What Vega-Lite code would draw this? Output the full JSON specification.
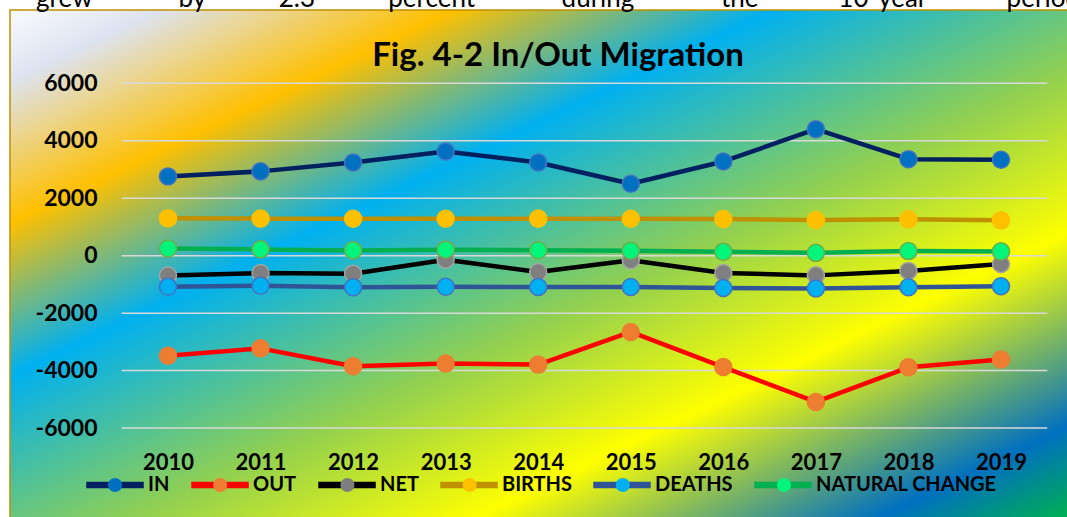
{
  "$schema": "https://vega.github.io/schema/vega-lite/v6.json",
  "width": 1058,
  "height": 508,
  "autosize": {"type": "none"},
  "padding": {"left": 10, "top": 10, "right": 0, "bottom": 0},
  "background": "white",
  "title": {
    "text": "grew\u00a0\u00a0\u00a0\u00a0\u00a0\u00a0\u00a0\u00a0\u00a0\u00a0\u00a0\u00a0\u00a0by\u00a0\u00a0\u00a0\u00a0\u00a0\u00a0\u00a0\u00a0\u00a0\u00a0\u00a02.3\u00a0\u00a0\u00a0\u00a0\u00a0\u00a0\u00a0\u00a0\u00a0\u00a0\u00a0percent\u00a0\u00a0\u00a0\u00a0\u00a0\u00a0\u00a0\u00a0\u00a0\u00a0\u00a0\u00a0\u00a0during\u00a0\u00a0\u00a0\u00a0\u00a0\u00a0\u00a0\u00a0\u00a0\u00a0\u00a0\u00a0\u00a0the\u00a0\u00a0\u00a0\u00a0\u00a0\u00a0\u00a0\u00a0\u00a0\u00a0\u00a0\u00a010-year\u00a0\u00a0\u00a0\u00a0\u00a0\u00a0\u00a0\u00a0\u00a0\u00a0\u00a0\u00a0period\u00a0\u00a0\u00a0\u00a0\u00a0\u00a0\u00a0",
    "subtitle": "Fig. 4-2 In/Out Migration",
    "font": "Lato",
    "fontSize": 26,
    "fontWeight": "normal",
    "color": "#000000",
    "subtitleFont": "Lato",
    "subtitleFontSize": 33,
    "subtitleFontWeight": "bold",
    "subtitleColor": "#000000",
    "subtitlePadding": 28,
    "anchor": "middle",
    "frame": "group",
    "offset": -63,
    "dx": 19
  },
  "config": {
    "view": {
      "stroke": "#bf9000",
      "strokeWidth": 1.5,
      "fill": {
        "gradient": "linear",
        "x1": 0, "y1": 0, "x2": 1, "y2": 1,
        "stops": [
          {"offset": 0, "color": "#fafbfe"},
          {"offset": 0.07, "color": "#dde3f1"},
          {"offset": 0.21, "color": "#ffc000"},
          {"offset": 0.36, "color": "#00b0f0"},
          {"offset": 0.56, "color": "#92d050"},
          {"offset": 0.72, "color": "#ffff00"},
          {"offset": 0.91, "color": "#0070c0"},
          {"offset": 1, "color": "#00b050"}
        ]
      }
    }
  },
  "data": {
    "values": [
      {"year": 2010, "series": "IN", "value": 2760},
      {"year": 2011, "series": "IN", "value": 2935},
      {"year": 2012, "series": "IN", "value": 3245},
      {"year": 2013, "series": "IN", "value": 3630},
      {"year": 2014, "series": "IN", "value": 3245},
      {"year": 2015, "series": "IN", "value": 2505},
      {"year": 2016, "series": "IN", "value": 3280},
      {"year": 2017, "series": "IN", "value": 4405},
      {"year": 2018, "series": "IN", "value": 3360},
      {"year": 2019, "series": "IN", "value": 3340},
      {"year": 2010, "series": "OUT", "value": -3480},
      {"year": 2011, "series": "OUT", "value": -3225},
      {"year": 2012, "series": "OUT", "value": -3850},
      {"year": 2013, "series": "OUT", "value": -3755},
      {"year": 2014, "series": "OUT", "value": -3790},
      {"year": 2015, "series": "OUT", "value": -2655},
      {"year": 2016, "series": "OUT", "value": -3875},
      {"year": 2017, "series": "OUT", "value": -5090},
      {"year": 2018, "series": "OUT", "value": -3885},
      {"year": 2019, "series": "OUT", "value": -3615},
      {"year": 2010, "series": "NET", "value": -690},
      {"year": 2011, "series": "NET", "value": -605},
      {"year": 2012, "series": "NET", "value": -625},
      {"year": 2013, "series": "NET", "value": -140},
      {"year": 2014, "series": "NET", "value": -570},
      {"year": 2015, "series": "NET", "value": -160},
      {"year": 2016, "series": "NET", "value": -600},
      {"year": 2017, "series": "NET", "value": -685},
      {"year": 2018, "series": "NET", "value": -530},
      {"year": 2019, "series": "NET", "value": -290},
      {"year": 2010, "series": "BIRTHS", "value": 1305},
      {"year": 2011, "series": "BIRTHS", "value": 1290},
      {"year": 2012, "series": "BIRTHS", "value": 1285},
      {"year": 2013, "series": "BIRTHS", "value": 1285},
      {"year": 2014, "series": "BIRTHS", "value": 1290},
      {"year": 2015, "series": "BIRTHS", "value": 1285},
      {"year": 2016, "series": "BIRTHS", "value": 1275},
      {"year": 2017, "series": "BIRTHS", "value": 1245},
      {"year": 2018, "series": "BIRTHS", "value": 1265},
      {"year": 2019, "series": "BIRTHS", "value": 1230},
      {"year": 2010, "series": "DEATHS", "value": -1078},
      {"year": 2011, "series": "DEATHS", "value": -1045},
      {"year": 2012, "series": "DEATHS", "value": -1100},
      {"year": 2013, "series": "DEATHS", "value": -1080},
      {"year": 2014, "series": "DEATHS", "value": -1090},
      {"year": 2015, "series": "DEATHS", "value": -1090},
      {"year": 2016, "series": "DEATHS", "value": -1125},
      {"year": 2017, "series": "DEATHS", "value": -1140},
      {"year": 2018, "series": "DEATHS", "value": -1100},
      {"year": 2019, "series": "DEATHS", "value": -1065},
      {"year": 2010, "series": "NATURAL CHANGE", "value": 250},
      {"year": 2011, "series": "NATURAL CHANGE", "value": 220},
      {"year": 2012, "series": "NATURAL CHANGE", "value": 185},
      {"year": 2013, "series": "NATURAL CHANGE", "value": 210},
      {"year": 2014, "series": "NATURAL CHANGE", "value": 190},
      {"year": 2015, "series": "NATURAL CHANGE", "value": 175},
      {"year": 2016, "series": "NATURAL CHANGE", "value": 140},
      {"year": 2017, "series": "NATURAL CHANGE", "value": 100},
      {"year": 2018, "series": "NATURAL CHANGE", "value": 160},
      {"year": 2019, "series": "NATURAL CHANGE", "value": 150}
    ]
  },
  "layer": [
    {
      "data": {"values": [{"value": -6000}, {"value": -4000}, {"value": -2000}, {"value": 0}, {"value": 2000}, {"value": 4000}, {"value": 6000}]},
      "mark": {"type": "rule", "color": "#d9d9d9", "strokeWidth": 1.5},
      "encoding": {
        "y": {"field": "value", "type": "quantitative", "scale": {"domain": [-9130, 8552], "nice": false, "zero": false}},
        "x": {"datum": 2009.5, "type": "quantitative", "scale": {"domain": [2008.293, 2019.724], "nice": false, "zero": false}},
        "x2": {"datum": 2019.5}
      }
    },
    {
      "mark": {"type": "line", "strokeWidth": 4.5, "strokeCap": "round", "strokeJoin": "round"},
      "encoding": {
        "x": {
          "field": "year", "type": "quantitative",
          "scale": {"domain": [2008.293, 2019.724], "nice": false, "zero": false},
          "axis": {
            "values": [2010, 2011, 2012, 2013, 2014, 2015, 2016, 2017, 2018, 2019],
            "labelExpr": "'' + datum.value",
            "title": null, "domain": false, "ticks": false, "tickSize": 0, "grid": false,
            "labelFont": "Lato", "labelFontSize": 22, "labelFontWeight": "bold", "labelColor": "#000000",
            "labelBaseline": "middle", "labelPadding": -56, "labelOverlap": false, "labelFlush": false
          }
        },
        "y": {
          "field": "value", "type": "quantitative",
          "scale": {"domain": [-9130, 8552], "nice": false, "zero": false},
          "axis": {
            "values": [-6000, -4000, -2000, 0, 2000, 4000, 6000],
            "labelExpr": "'' + datum.value",
            "title": null, "domain": false, "ticks": false, "tickSize": 0, "grid": false,
            "labelFont": "Lato", "labelFontSize": 23, "labelFontWeight": "bold", "labelColor": "#000000",
            "labelPadding": -87, "labelOverlap": false, "labelFlush": false
          }
        },
        "color": {
          "field": "series", "type": "nominal",
          "scale": {
            "domain": ["IN", "OUT", "NET", "BIRTHS", "DEATHS", "NATURAL CHANGE"],
            "range": ["#002060", "#ff0000", "#000000", "#bf9000", "#2f5597", "#00b050"]
          },
          "legend": {
            "orient": "none", "legendX": 76, "legendY": 446, "direction": "horizontal",
            "title": null, "padding": 0,
            "symbolType": "M -1 -0.09 L 1 -0.09 L 1 0.09 L -1 0.09 Z",
            "symbolSize": 3136, "symbolStrokeWidth": 1.5,
            "labelFont": "Lato", "labelFontSize": 20, "labelFontWeight": "bold", "labelColor": "#000000",
            "labelOffset": 4, "columnPadding": 19, "labelLimit": 400,
            "encode": {"symbols": {"update": {"fill": {"scale": "color", "field": "value"}, "stroke": {"value": "transparent"}, "strokeWidth": {"value": 1.5}, "opacity": {"value": 1}}}}
          }
        }
      }
    },
    {
      "mark": {"type": "point", "filled": true, "opacity": 1, "size": 290, "strokeWidth": 1.5},
      "encoding": {
        "x": {"field": "year", "type": "quantitative", "scale": {"domain": [2008.293, 2019.724], "nice": false, "zero": false}},
        "y": {"field": "value", "type": "quantitative", "scale": {"domain": [-9130, 8552], "nice": false, "zero": false}},
        "fill": {
          "field": "series", "type": "nominal",
          "sort": ["IN", "OUT", "NET", "BIRTHS", "DEATHS", "NATURAL CHANGE"],
          "scale": {
            "range": ["#0070c0", "#ed7d31", "#7f7f7f", "#ffc000", "#00b0f0", "#00f57a"]
          },
          "legend": {
            "orient": "none", "legendX": 76, "legendY": 446, "direction": "horizontal",
            "title": null, "padding": 0, "zindex": 1,
            "symbolType": "M -1 0 M 1 0 M -0.25 0 A 0.25 0.25 0 1 1 0.25 0 A 0.25 0.25 0 1 1 -0.25 0 Z",
            "symbolSize": 3136, "symbolStrokeWidth": 1.5,
            "labelFont": "Lato", "labelFontSize": 20, "labelFontWeight": "bold", "labelColor": "#000000",
            "labelOpacity": 0,
            "labelOffset": 4, "columnPadding": 21.2, "labelLimit": 400,
            "encode": {"symbols": {"update": {"stroke": {"scale": "stroke", "field": "value"}, "strokeWidth": {"value": 1.5}, "opacity": {"value": 1}}}}
          }
        },
        "stroke": {
          "field": "series", "type": "nominal",
          "scale": {
            "domain": ["IN", "OUT", "NET", "BIRTHS", "DEATHS", "NATURAL CHANGE"],
            "range": ["#4472c4", "#ed7d31", "#a5a5a5", "#ffc000", "#4472c4", "#70ad47"]
          },
          "legend": null
        }
      }
    }
  ]
}
